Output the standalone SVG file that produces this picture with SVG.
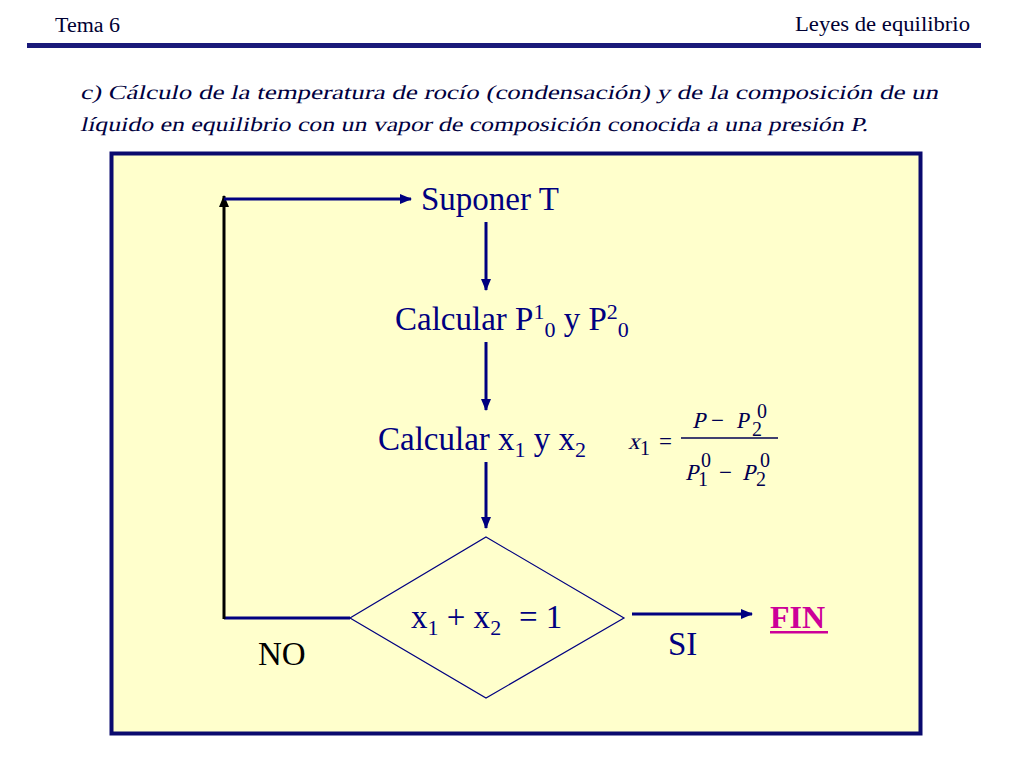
<svg xmlns="http://www.w3.org/2000/svg" width="1024" height="768" viewBox="0 0 1024 768">
<style>
.t{font-family:"Liberation Serif","Times New Roman",serif;fill:#000080}
.big{font-size:33px}
.sub{font-size:22px}
.hd{font-family:"Liberation Serif","Times New Roman",serif;font-size:20px;fill:#000033}
.para{font-family:"Liberation Serif","Times New Roman",serif;font-size:20px;fill:#000040}
.fm{font-family:"Liberation Serif","Times New Roman",serif;fill:#000050;font-size:23px}
.fs{font-family:"Liberation Serif","Times New Roman",serif;fill:#000050;font-size:20px}
.cn{stroke:#000080;stroke-width:3;fill:none}
</style>
<defs>
<marker id="ah" markerWidth="12" markerHeight="10" refX="11" refY="5" orient="auto" markerUnits="userSpaceOnUse">
<path d="M0,0 L12,5 L0,10 Z" fill="#000080"/>
</marker>
<marker id="ahk" markerWidth="12" markerHeight="10" refX="11" refY="5" orient="auto" markerUnits="userSpaceOnUse">
<path d="M0,0 L12,5 L0,10 Z" fill="#000000"/>
</marker>
</defs>
<rect width="1024" height="768" fill="#ffffff"/>
<g id="header">
<text class="hd" x="55" y="32" textLength="65" lengthAdjust="spacingAndGlyphs">Tema 6</text>
<text class="hd" x="795" y="31" textLength="175" lengthAdjust="spacingAndGlyphs">Leyes de equilibrio</text>
<rect x="27" y="43" width="954" height="5" fill="#1a1a7a"/>
</g>
<g id="title">
<text class="para" transform="translate(80,99) skewX(-13)" x="0" y="0" textLength="858" lengthAdjust="spacingAndGlyphs">c) Cálculo de la temperatura de rocío (condensación) y de la composición de un</text>
<text class="para" transform="translate(80,131) skewX(-13)" x="0" y="0" textLength="788" lengthAdjust="spacingAndGlyphs">líquido en equilibrio con un vapor de composición conocida a una presión P.</text>
</g>
<rect id="panel" x="111.5" y="153.5" width="809" height="580" fill="#ffffcc" stroke="#0a0a6e" stroke-width="4"/>
<g id="connectors">
<line class="cn" x1="486" y1="222" x2="486" y2="290" marker-end="url(#ah)"/>
<line class="cn" x1="486" y1="342" x2="486" y2="410" marker-end="url(#ah)"/>
<line class="cn" x1="486" y1="462" x2="486" y2="528" marker-end="url(#ah)"/>
<polyline class="cn" points="350,618 224,618"/>
<line x1="224" y1="619" x2="224" y2="196" stroke="#000" stroke-width="3" marker-end="url(#ahk)"/>
<line class="cn" x1="224" y1="199" x2="411" y2="199" marker-end="url(#ah)"/>
<line class="cn" x1="632" y1="614" x2="752" y2="614" marker-end="url(#ah)"/>
<text class="t big" x="258" y="665" style="fill:#000000">NO</text>
<text class="t big" x="668" y="655">SI</text>
</g>
<g id="n-suponer">
<text class="t big" x="421" y="210">Suponer T</text>
</g>
<g id="n-calcP">
<text class="t big" x="395" y="330">Calcular P<tspan class="sub" dy="-11">1</tspan><tspan class="sub" dy="18">0</tspan><tspan dy="-7"> y P</tspan><tspan class="sub" dy="-11">2</tspan><tspan class="sub" dy="18">0</tspan></text>
</g>
<g id="n-calcx">
<text class="t big" x="378" y="450">Calcular x<tspan class="sub" dy="7">1</tspan><tspan dy="-7"> y x</tspan><tspan class="sub" dy="7">2</tspan></text>
</g>
<g id="formula">
<text class="fm" transform="translate(628,449) skewX(-14)">x</text>
<text class="fs" x="640" y="455">1</text>
<text class="fm" x="659" y="449">=</text>
<line x1="681" y1="438" x2="778" y2="438" stroke="#000050" stroke-width="1.3"/>
<text class="fm" transform="translate(692,428) skewX(-14)">P</text>
<text class="fm" x="711" y="428">−</text>
<text class="fm" transform="translate(736,428) skewX(-10)">P</text>
<text class="fs" x="752" y="436">2<tspan x="757" y="418">0</tspan></text>
<text class="fm" transform="translate(685,480) skewX(-14)">P</text>
<text class="fs" x="698" y="486">1<tspan x="701" y="467">0</tspan></text>
<text class="fm" x="719" y="480">−</text>
<text class="fm" transform="translate(742,480) skewX(-14)">P</text>
<text class="fs" x="756" y="486">2<tspan x="760" y="467">0</tspan></text>
</g>
<g id="n-decision">
<polygon points="486,537 624,618 486,698 350,618" fill="none" stroke="#000080" stroke-width="1.2"/>
<text class="t big" x="411" y="628">x<tspan class="sub" dy="7">1</tspan><tspan dy="-7"> + x</tspan><tspan class="sub" dy="7">2</tspan><tspan x="519" dy="-7">= 1</tspan></text>
</g>
<g id="n-fin">
<text x="770" y="628" font-family="Liberation Serif, serif" font-weight="bold" font-size="32" fill="#cc0099">FIN</text>
<rect x="770" y="631" width="58" height="2.5" fill="#cc0099"/>
</g>
</svg>
